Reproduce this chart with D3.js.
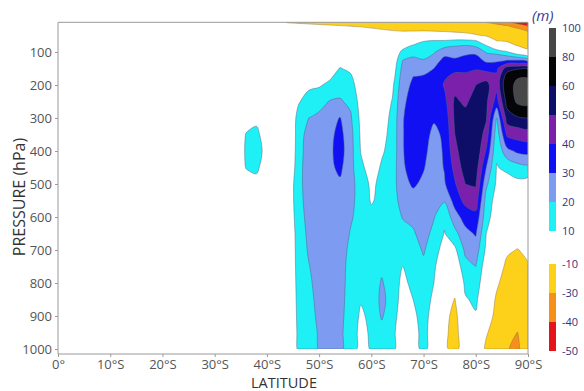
<!DOCTYPE html>
<html>
<head>
<meta charset="utf-8">
<script src="https://cdn.jsdelivr.net/npm/d3@7"></script>
<style>
  html, body { margin: 0; padding: 0; background: #fff; }
  svg { display: block; font-family: "Open Sans", "Noto Sans", sans-serif; }
</style>
</head>
<body>
<svg id="chart" width="584" height="391"></svg>
<script>
// Zonal-mean geopotential height anomaly (m) on a latitude / pressure grid.
const latitudes = [34, 36, 38, 40, 42, 44, 46, 48, 50, 52, 54, 56, 58, 60, 62,
                   64, 66, 68, 70, 72, 74, 76, 78, 80, 82, 84, 86, 88, 90];
const pressureLevels = [10, 20, 35, 50, 65, 80, 100, 125, 150, 175, 200, 250, 300, 350,
                        400, 450, 500, 550, 600, 650, 700, 750, 800, 850, 900, 950, 1000];

// One vertical profile per latitude, from 10 hPa down to 1000 hPa.
const profiles = [
  /*34*/ [0,0,0,0,0,0,0,0,0,0,0,0,0,0,0,0,0,0,0,0,0,0,0,0,0,0,0],
  /*36*/ [0,0,0,0,0,0,0,0,0,0,0,0,5,10.5,11.5,10.5,4,0,0,0,0,0,0,0,0,0,0],
  /*38*/ [0,0,0,0,0,0,0,0,0,0,0,0,7,13,16,12.5,6,0,0,0,0,0,0,0,0,0,0],
  /*40*/ [-3,0,0,0,0,0,0,0,0,0,0,0,0,3,5,3,0,0,0,0,0,0,0,0,0,0,0],
  /*42*/ [-6,-2,0,0,0,0,0,0,0,0,0,0,0,0,0,0,0,0,0,0,0,0,0,0,0,0,0],
  /*44*/ [-11,-4,0,0,0,0,0,0,0,0,0,0,0,0,0,0,3,3,2,0,0,0,0,0,0,0,0],
  /*46*/ [-12,-6,-2,0,0,0,0,0,0,2,4,9,13,13.5,14,15,15.5,15.5,15,14.5,14,13.5,13,12.5,12,11.5,11],
  /*48*/ [-13,-7,-3,0,0,0,0,0,2,5,8,14,20,25,26.5,27,26.5,25,23.5,22,21,19.5,18.5,17.5,16.5,15.5,15],
  /*50*/ [-14,-8,-4,0,0,0,0,0,3,6,9,16,22.5,26,27.5,28,27.5,26.5,25.5,25,24.5,24,23,22.5,22,21,20.6],
  /*52*/ [-15,-9,-5,-2,0,0,0,2,5,8.5,12,20.5,25.5,27.5,28,28,27.5,27,26.5,26,25.5,25,24.5,24,23.5,23,23],
  /*54*/ [-16,-10,-6,-3,0,0,2,6,10.5,13.5,16,21,30.5,33,34,32,28.5,27,26,25,24,23,22.5,22,21.5,21,21],
  /*56*/ [-17,-10.5,-6.5,-3.5,-1,0,1,4,8,11.5,14,18,21.5,23.5,24,23.5,23,22,21,19.5,18,17.5,17.5,17.5,17.5,17.5,17.5],
  /*58*/ [-17,-11,-7,-4,-2,0,0,1,2,3,4,6,7.5,8.5,9.5,12,16,17,17,16,15,14,12.5,11,8,6,5],
  /*60*/ [-18,-12,-8,-4.5,-2,0,0,0,1,1.5,2,3,3.5,4,4.5,6,8,9,13,14,14,14,14,13.5,13,12,11],
  /*62*/ [-18,-13,-9,-5,-2.5,0,0,0.5,1,2,2.5,3.5,5,7,9,11,12.5,13,14,15,16,18,21,22.5,21,17,14],
  /*64*/ [-19,-14,-10,-6,-3,0,0,1,3,5,7.5,10.5,12.5,13,13,14,15,15.5,15,14,13.5,13,14.5,16,14,12,12],
  /*66*/ [-20,-15,-10.5,-6.5,-2,5,13,20,23,25,26.5,28.5,29.5,29.5,29.5,29,27.5,24,20.5,17,13.5,10,8,6,5,5,5],
  /*68*/ [-20,-15,-10.5,-6,-1,11,17,22,27,30,31.5,33,34,34.5,34,33,31,27,22,19,16,14,12,10,8,6.5,5],
  /*70*/ [-20,-15,-10.5,-3,9,14,16,20.5,26,31,33,34,34,33,32,30.5,28.5,27,25.5,23.5,21,18,16,14.5,13.5,13,13],
  /*72*/ [-21,-16,-11,-3,10,15,19,25,30,32,33,33,31,28,26.5,26,25,23,20.5,17.5,14,11.5,10,8,6,5,4],
  /*74*/ [-21,-16,-11.5,-4,10,17,26,33,37,39,41,37,33,31.5,31,30.5,29,21,12,9.5,6,2,-3,-4,-5,-6,-6],
  /*76*/ [-22,-17,-12,-6,12,19,27,31,38,42,46,52,52,50,47,43,39,34,26,17,8,2,-5,-10.5,-15,-17,-17],
  /*78*/ [-23,-18,-12.5,-7,12,20,28,33,38,42,45,48,54,57,57,55,50,43,34,27,22,17,12.5,9,6,4,3],
  /*80*/ [-25,-19,-14,-9,10,18,28,34,39,45,50,55,57,58,58,55,51,45,37,31,25,20,15.5,12,9,5,2],
  /*82*/ [-30,-22,-15,-11,-2,10,19,28,36,47,53,52,51,46,39,30,22,16,14,10,8,4,2,0,-3,-9,-12],
  /*84*/ [-35,-26,-18,-12,-10.5,-3,17,28,38,42,43,36,20,14,11.5,9.5,8.5,6,4,2,0,-3,-8,-12,-14,-15,-15],
  /*86*/ [-38,-30,-21,-15,-11,-7,11,30,55,66,70,64,55,42,27,12,6,3,0,-3,-8,-13,-16,-18,-19,-26,-29.5],
  /*88*/ [-44,-35,-26,-19,-13,-10.5,2,30,58,78,86,84,58,44,32,16,7,4,1,-4,-10.5,-15,-18,-21,-24,-30.2,-31.5],
  /*90*/ [-46,-41,-31,-24,-18,-13,-7,25,58,78,88,86,60,45,33,17,5,2,0,-3,-7,-11,-14,-16,-18,-20,-22]
];

// Shading intervals (lower bound of each filled band)
const positiveLevels = [10, 20, 30, 40, 50, 60, 80];
const positiveColors = ["#1ef0f6", "#7d9bf0", "#1010f2", "#7a20aa", "#0e0e68", "#050507", "#474747"];
const negativeLevels = [-10, -30, -40];
const negativeColors = ["#fdd119", "#f6901c", "#e5141b"];

// Colour-bar labels
const colorbarPositive = [10, 20, 30, 40, 50, 60, 80, 100];
const colorbarNegative = [-10, -30, -40, -50];

// Axis ticks
const latitudeTicks = [0, 10, 20, 30, 40, 50, 60, 70, 80, 90];
const pressureTicks = [100, 200, 300, 400, 500, 600, 700, 800, 900, 1000];

const svg = d3.select("#chart");
const x = d3.scaleLinear().domain([0, 90]).range([58, 528]);
const y = d3.scaleLinear().domain([0, 1000]).range([19, 349]);

const nLat = latitudes.length, nLev = pressureLevels.length;
const latAt = d3.scaleLinear().domain(d3.range(nLat)).range(latitudes).clamp(true);
const presAt = d3.scaleLinear().domain(d3.range(nLev)).range(pressureLevels).clamp(true);

const grid = new Array(nLat * nLev);
const negGrid = new Array(nLat * nLev);
for (let j = 0; j < nLev; j++) {
  for (let i = 0; i < nLat; i++) {
    grid[j * nLat + i] = profiles[i][j];
    negGrid[j * nLat + i] = -profiles[i][j];
  }
}

// contour coordinates: sample k sits at k + 0.5
const project = ([cx, cy]) => [x(latAt(cx - 0.5)), y(presAt(cy - 0.5))];
const ringLine = d3.line().curve(d3.curveCatmullRomClosed.alpha(0.5));
function bandPath(geometry) {
  return geometry.coordinates
    .map(poly => poly.map(ring => ringLine(ring.slice(0, -1).map(project))).join(""))
    .join("");
}

const plotTop = y(10), plotBottom = y(1000);
svg.append("defs").append("clipPath").attr("id", "plot-clip")
  .append("rect")
  .attr("x", x(0)).attr("y", plotTop)
  .attr("width", x(90) - x(0)).attr("height", plotBottom - plotTop);

const field = svg.append("g").attr("clip-path", "url(#plot-clip)");

const contours = d3.contours().size([nLat, nLev]);

// negative anomalies: regions where value <= level
contours.thresholds(negativeLevels.map(v => -v))(negGrid).forEach((c, k) => {
  field.append("path")
    .attr("d", bandPath(c))
    .attr("fill", negativeColors[k])
    .attr("fill-rule", "evenodd")
    .attr("stroke", "#8a6a40")
    .attr("stroke-width", 0.6)
    .attr("stroke-opacity", 0.7);
});

// positive anomalies: regions where value >= level
contours.thresholds(positiveLevels)(grid).forEach((c, k) => {
  field.append("path")
    .attr("d", bandPath(c))
    .attr("fill", positiveColors[k])
    .attr("fill-rule", "evenodd")
    .attr("stroke", "#4f6688")
    .attr("stroke-width", 0.6)
    .attr("stroke-opacity", 0.8);
});

// frame
const frameColor = "#9a9a9a";
svg.append("path")
  .attr("d", `M${x(0)},354V${plotTop}H${x(90)}V354H${x(0)}`)
  .attr("fill", "none").attr("stroke", frameColor).attr("stroke-width", 1);

// y axis
const yAxis = svg.append("g")
  .attr("transform", `translate(${x(0)},0)`)
  .call(d3.axisLeft(y).tickValues(pressureTicks).tickSize(3).tickPadding(3)
    .tickFormat(d => String(d)));
yAxis.select(".domain").remove();
yAxis.selectAll("line").attr("stroke", frameColor);
yAxis.selectAll("text").attr("font-size", 13).attr("fill", "#555")
  .attr("font-family", "'Open Sans', 'Noto Sans', sans-serif");

// x axis
const xAxis = svg.append("g")
  .attr("transform", "translate(0,354)")
  .call(d3.axisBottom(x).tickValues(latitudeTicks).tickSize(3).tickPadding(3)
    .tickFormat(d => d === 0 ? "0°" : d + "°S"));
xAxis.select(".domain").remove();
xAxis.selectAll("line").attr("stroke", frameColor);
xAxis.selectAll("text").attr("font-size", 13).attr("fill", "#555")
  .attr("font-family", "'Open Sans', 'Noto Sans', sans-serif");

// axis titles
svg.append("text")
  .attr("x", 284).attr("y", 387.5)
  .attr("text-anchor", "middle")
  .attr("font-size", 14.5).attr("fill", "#333")
  .text("LATITUDE");
svg.append("text")
  .attr("transform", "translate(25,197) rotate(-90)")
  .attr("text-anchor", "middle")
  .attr("font-size", 16).attr("fill", "#333")
  .text("PRESSURE (hPa)");

// colour bar
const cbX = 549, cbW = 7;
const cbPos = d3.scaleLinear().domain([0, colorbarPositive.length - 1]).range([231, 28]);
const cbNeg = d3.scaleLinear().domain([0, colorbarNegative.length - 1]).range([264, 351]);
const cb = svg.append("g");
positiveColors.forEach((c, k) => {
  cb.append("rect").attr("x", cbX).attr("width", cbW)
    .attr("y", cbPos(k + 1)).attr("height", cbPos(k) - cbPos(k + 1))
    .attr("fill", c);
});
negativeColors.forEach((c, k) => {
  cb.append("rect").attr("x", cbX).attr("width", cbW)
    .attr("y", cbNeg(k)).attr("height", cbNeg(k + 1) - cbNeg(k))
    .attr("fill", c);
});
const labelColor = "#33337f";
colorbarPositive.forEach((v, k) => {
  cb.append("text").attr("x", 562).attr("y", cbPos(k)).attr("dy", "0.35em")
    .attr("font-size", 11).attr("fill", labelColor).text(v);
});
colorbarNegative.forEach((v, k) => {
  cb.append("text").attr("x", 562).attr("y", cbNeg(k)).attr("dy", "0.35em")
    .attr("font-size", 11).attr("fill", labelColor).text(v);
});
cb.append("text").attr("x", 532).attr("y", 21)
  .attr("font-size", 15).attr("font-style", "italic").attr("fill", "#3b3b95")
  .text("(m)");
</script>
</body>
</html>
